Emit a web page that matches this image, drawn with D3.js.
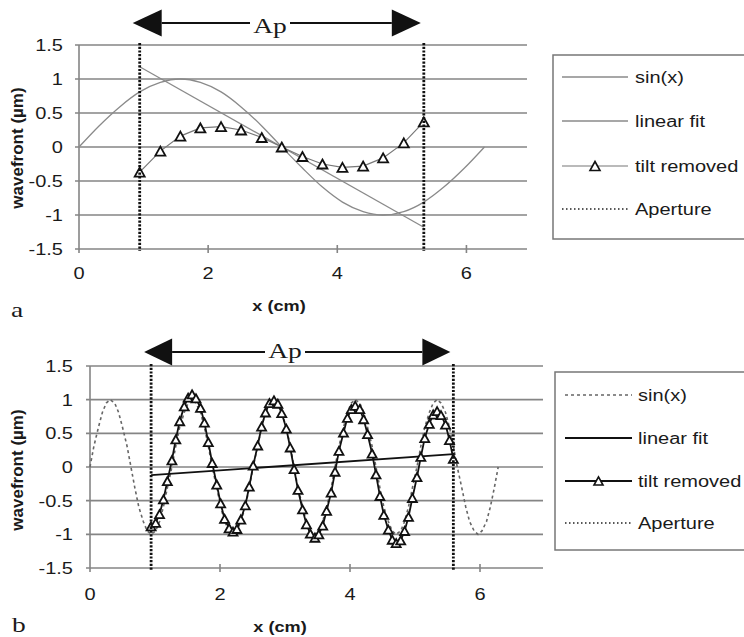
<!DOCTYPE html>
<html>
<head>
<meta charset="utf-8">
<script src="https://cdn.jsdelivr.net/npm/d3@7"></script>
<style>
  body { margin: 0; background: #fff; }
  svg { display: block; }
</style>
</head>
<body>
<div class="chart"></div>
<script>
// ---- data ----
let yTicks = [1.5, 1, 0.5, 0, -0.5, -1, -1.5];
let xTicks = [0, 2, 4, 6];
let legendNames = ['sin(x)', 'linear fit', 'tilt removed', 'Aperture'];

// panel a : coarse sampling
let xA = [0, 0.31, 0.63, 0.94, 1.26, 1.57, 1.88, 2.2, 2.51, 2.83, 3.14,
          3.46, 3.77, 4.08, 4.4, 4.71, 5.03, 5.34, 5.65, 5.97, 6.28];
let sinA = [0, 0.31, 0.59, 0.81, 0.95, 1, 0.95, 0.81, 0.59, 0.31, 0,
            -0.31, -0.59, -0.81, -0.95, -1, -0.95, -0.81, -0.59, -0.31, 0];
let tiltXA = [0.94, 1.26, 1.57, 1.88, 2.2, 2.51, 2.83, 3.14, 3.46, 3.77, 4.08, 4.4, 4.71, 5.03, 5.34];
let tiltA = [-0.37, -0.06, 0.16, 0.28, 0.3, 0.25, 0.14, 0, -0.14, -0.25, -0.3, -0.28, -0.16, 0.06, 0.37];
let fitXA = [0.94, 5.34];
let fitA = [1.18, -1.18];
let apertureA = [0.94, 5.34];

// panel b : fine sampling
let xB = [0, 0.06, 0.13, 0.19, 0.25, 0.31, 0.38, 0.44, 0.5, 0.57,
          0.63, 0.69, 0.75, 0.82, 0.88, 0.94, 1.01, 1.07, 1.13, 1.19,
          1.26, 1.32, 1.38, 1.45, 1.51, 1.57, 1.63, 1.7, 1.76, 1.82,
          1.88, 1.95, 2.01, 2.07, 2.14, 2.2, 2.26, 2.32, 2.39, 2.45,
          2.51, 2.58, 2.64, 2.7, 2.76, 2.83, 2.89, 2.95, 3.02, 3.08,
          3.14, 3.2, 3.27, 3.33, 3.39, 3.46, 3.52, 3.58, 3.64, 3.71,
          3.77, 3.83, 3.9, 3.96, 4.02, 4.08, 4.15, 4.21, 4.27, 4.34,
          4.4, 4.46, 4.52, 4.59, 4.65, 4.71, 4.78, 4.84, 4.9, 4.96,
          5.03, 5.09, 5.15, 5.22, 5.28, 5.34, 5.4, 5.47, 5.53, 5.59,
          5.65, 5.72, 5.78, 5.84, 5.91, 5.97, 6.03, 6.1, 6.16, 6.22, 6.28];
let sinB = [0, 0.31, 0.59, 0.81, 0.95, 1, 0.95, 0.81, 0.59, 0.31,
            0, -0.31, -0.59, -0.81, -0.95, -1, -0.95, -0.81, -0.59, -0.31,
            0, 0.31, 0.59, 0.81, 0.95, 1, 0.95, 0.81, 0.59, 0.31,
            0, -0.31, -0.59, -0.81, -0.95, -1, -0.95, -0.81, -0.59, -0.31,
            0, 0.31, 0.59, 0.81, 0.95, 1, 0.95, 0.81, 0.59, 0.31,
            0, -0.31, -0.59, -0.81, -0.95, -1, -0.95, -0.81, -0.59, -0.31,
            0, 0.31, 0.59, 0.81, 0.95, 1, 0.95, 0.81, 0.59, 0.31,
            0, -0.31, -0.59, -0.81, -0.95, -1, -0.95, -0.81, -0.59, -0.31,
            0, 0.31, 0.59, 0.81, 0.95, 1, 0.95, 0.81, 0.59, 0.31,
            0, -0.31, -0.59, -0.81, -0.95, -1, -0.95, -0.81, -0.59, -0.31, 0];
let tiltB = [-0.88, -0.83, -0.7, -0.48, -0.21, 0.1, 0.41, 0.68, 0.9, 1.03,
             1.08, 1.02, 0.88, 0.66, 0.37, 0.06, -0.26, -0.54, -0.77, -0.91,
             -0.96, -0.92, -0.78, -0.57, -0.29, 0.02, 0.32, 0.6, 0.81, 0.95,
             0.99, 0.94, 0.8, 0.57, 0.29, -0.03, -0.34, -0.63, -0.85, -0.99,
             -1.05, -1, -0.87, -0.65, -0.38, -0.07, 0.24, 0.51, 0.73, 0.86,
             0.91, 0.86, 0.71, 0.49, 0.2, -0.11, -0.43, -0.71, -0.93, -1.08,
             -1.13, -1.09, -0.95, -0.74, -0.46, -0.15, 0.15, 0.43, 0.64, 0.78,
             0.83, 0.77, 0.63, 0.4, 0.12];
let tiltXB = xB.slice(15, 90);
let fitXB = [0.94, 5.59];
let fitB = [-0.12, 0.19];
let apertureB = [0.94, 5.59];

// ---- drawing ----
let width = 744;
let height = 637;
let SX = 1.25; // the scan is wider than it is tall, stretch text to match

let svg = d3.select('.chart')
            .append('svg')
            .attr('width', width)
            .attr('height', height);

function label(g, x, y, s, size, anchor, family, weight) {
  return g.append('text')
          .attr('transform', 'translate(' + x + ',' + y + ') scale(' + SX + ',1)')
          .attr('text-anchor', anchor || 'start')
          .style('font-family', family || 'Liberation Sans, Arial, sans-serif')
          .style('font-weight', weight || 'normal')
          .style('font-size', size + 'px')
          .attr('fill', '#1a1a1a')
          .text(s);
}

function triangle(s) {
  let h = s * 0.9;
  return 'M0,' + (-h / 2) + 'L' + (s / 2) + ',' + (h / 2) + 'L' + (-s / 2) + ',' + (h / 2) + 'Z';
}

function zip(xs, ys) {
  return xs.map((x, i) => [x, ys[i]]);
}

function drawPanel(p) {
  let g = svg.append('g');
  let xScale = d3.scaleLinear().domain([0, 7]).range([p.x0, p.x1]);
  let yScale = d3.scaleLinear().domain([-1.5, 1.5]).range([p.yBot, p.yTop]);
  let line = d3.line().x(d => xScale(d[0])).y(d => yScale(d[1]));

  // horizontal grid
  g.selectAll('.grid')
   .data(yTicks)
   .enter()
   .append('line')
   .attr('x1', p.x0 - 4)
   .attr('x2', p.gridEnd)
   .attr('y1', d => yScale(d))
   .attr('y2', d => yScale(d))
   .attr('stroke', '#858585')
   .attr('stroke-width', 1.6);

  // y axis line + x ticks
  g.append('line')
   .attr('x1', p.x0).attr('x2', p.x0)
   .attr('y1', yScale(1.5)).attr('y2', yScale(-1.5) + 4)
   .attr('stroke', '#858585')
   .attr('stroke-width', 1.6);
  g.selectAll('.xtick')
   .data(xTicks.slice(1))
   .enter()
   .append('line')
   .attr('x1', d => xScale(d)).attr('x2', d => xScale(d))
   .attr('y1', yScale(-1.5) - 4).attr('y2', yScale(-1.5) + 4)
   .attr('stroke', '#858585')
   .attr('stroke-width', 1.6);

  // tick labels
  yTicks.forEach(t => label(g, p.tickLabelX, yScale(t) + 6, String(t), 16, 'end'));
  xTicks.forEach(t => label(g, xScale(t), p.xLabelY, String(t), 16, 'middle'));

  // titles
  label(g, p.xTitle[0], p.xTitle[1], 'x (cm)', 14.5, 'middle', null, 'bold');
  g.append('text')
   .attr('transform', 'translate(' + p.yTitle[0] + ',' + p.yTitle[1] + ') rotate(-90)')
   .attr('text-anchor', 'middle')
   .style('font-family', 'Liberation Sans, Arial, sans-serif')
   .style('font-weight', 'bold')
   .style('font-size', '17px')
   .attr('fill', '#1a1a1a')
   .text('wavefront (µm)');
  label(g, p.letter[0], p.letter[1], p.letterText, 22, 'start', 'Liberation Serif, Times New Roman, serif');

  // series
  g.append('path')
   .datum(zip(p.sinX, p.sinY))
   .attr('d', p.sinCurve ? line.curve(d3.curveMonotoneX) : line.curve(d3.curveLinear))
   .attr('fill', 'none')
   .attr('stroke', p.sinColor)
   .attr('stroke-width', p.sinWidth)
   .attr('stroke-dasharray', p.sinDash);
  line.curve(d3.curveLinear);

  g.append('path')
   .datum(zip(p.fitX, p.fitY))
   .attr('d', line)
   .attr('fill', 'none')
   .attr('stroke', p.fitColor)
   .attr('stroke-width', p.fitWidth);

  g.append('path')
   .datum(zip(p.tiltX, p.tiltY))
   .attr('d', line)
   .attr('fill', 'none')
   .attr('stroke', p.tiltColor)
   .attr('stroke-width', p.tiltWidth);

  g.selectAll('.tri')
   .data(zip(p.tiltX, p.tiltY))
   .enter()
   .append('path')
   .attr('d', triangle(p.triSize))
   .attr('transform', d => 'translate(' + xScale(d[0]) + ',' + yScale(d[1]) + ')')
   .attr('fill', '#fff')
   .attr('stroke', '#111')
   .attr('stroke-width', 1.8);

  // aperture
  g.selectAll('.ap')
   .data(p.aperture)
   .enter()
   .append('line')
   .attr('x1', d => xScale(d)).attr('x2', d => xScale(d))
   .attr('y1', yScale(1.5) - 2).attr('y2', yScale(-1.5) + 2)
   .attr('stroke', '#111')
   .attr('stroke-width', 2.8)
   .attr('stroke-dasharray', '2.2,1.5');

  // Ap arrow
  let a = p.arrow;
  let xl = xScale(p.aperture[0]) - 7;
  let xr = xScale(p.aperture[1]) - 3;
  g.append('path')
   .attr('d', 'M' + xl + ',' + a.y + 'L' + (xl + a.w) + ',' + (a.y - a.h / 2) + 'L' + (xl + a.w) + ',' + (a.y + a.h / 2) + 'Z')
   .attr('fill', '#111');
  g.append('path')
   .attr('d', 'M' + xr + ',' + a.y + 'L' + (xr - a.w) + ',' + (a.y - a.h / 2) + 'L' + (xr - a.w) + ',' + (a.y + a.h / 2) + 'Z')
   .attr('fill', '#111');
  g.append('line')
   .attr('x1', xl + a.w).attr('x2', a.tx - 20)
   .attr('y1', a.y).attr('y2', a.y)
   .attr('stroke', '#111').attr('stroke-width', 2.2);
  g.append('line')
   .attr('x1', a.tx + 20).attr('x2', xr - a.w)
   .attr('y1', a.y).attr('y2', a.y)
   .attr('stroke', '#111').attr('stroke-width', 2.2);
  label(g, a.tx, a.ty, 'Ap', 22, 'middle', 'Liberation Serif, Times New Roman, serif');

  // legend
  let L = p.legend;
  g.append('rect')
   .attr('x', L.x).attr('y', L.y)
   .attr('width', width - L.x + 20).attr('height', L.h)
   .attr('fill', '#fff')
   .attr('stroke', '#777')
   .attr('stroke-width', 1.5);
  let styles = [
    {c: p.sinColor, w: p.sinWidth, dash: p.sinDash},
    {c: p.fitColor, w: p.fitWidth, dash: null},
    {c: p.tiltColor, w: p.tiltWidth, dash: null, tri: true},
    {c: '#222', w: 1.6, dash: '1.5,2.5'}
  ];
  let legend = g.selectAll('.legend-label')
                .data(legendNames)
                .enter()
                .append('g')
                .attr('class', 'legend-label')
                .attr('transform', (d, i) => 'translate(0,' + L.rows[i] + ')');
  legend.append('line')
        .attr('x1', L.lx0).attr('x2', L.lx1)
        .attr('y1', 0).attr('y2', 0)
        .attr('stroke', (d, i) => styles[i].c)
        .attr('stroke-width', (d, i) => styles[i].w)
        .attr('stroke-dasharray', (d, i) => styles[i].dash);
  legend.filter((d, i) => styles[i].tri)
        .append('path')
        .attr('d', triangle(p.triSize))
        .attr('transform', 'translate(' + ((L.lx0 + L.lx1) / 2) + ',0)')
        .attr('fill', '#fff')
        .attr('stroke', '#111')
        .attr('stroke-width', 1.6);
  legend.each(function (d) {
    label(d3.select(this), L.tx, 6, d, 16, 'start');
  });
}

drawPanel({
  x0: 79, x1: 531, yTop: 45, yBot: 249, gridEnd: 527,
  tickLabelX: 63, xLabelY: 279,
  xTitle: [279, 311], yTitle: [23, 148],
  letter: [11, 317], letterText: 'a',
  sinX: xA, sinY: sinA, sinColor: '#8a8a8a', sinWidth: 1.3, sinDash: null, sinCurve: true,
  fitX: fitXA, fitY: fitA, fitColor: '#8a8a8a', fitWidth: 1.3,
  tiltX: tiltXA, tiltY: tiltA, tiltColor: '#777', tiltWidth: 1.2, triSize: 10,
  aperture: apertureA,
  arrow: {y: 23, w: 29, h: 27, tx: 270, ty: 33},
  legend: {x: 553, y: 55, h: 184, rows: [77, 121, 166, 209], lx0: 562, lx1: 628, tx: 635}
});

drawPanel({
  x0: 90, x1: 545, yTop: 366, yBot: 568, gridEnd: 543,
  tickLabelX: 73, xLabelY: 600,
  xTitle: [280, 632], yTitle: [23, 470],
  letter: [12, 632], letterText: 'b',
  sinX: xB, sinY: sinB, sinColor: '#666', sinWidth: 1.6, sinDash: '3,3', sinCurve: false,
  fitX: fitXB, fitY: fitB, fitColor: '#111', fitWidth: 1.8,
  tiltX: tiltXB, tiltY: tiltB, tiltColor: '#111', tiltWidth: 1.8, triSize: 9,
  aperture: apertureB,
  arrow: {y: 352, w: 28, h: 27, tx: 285, ty: 358},
  legend: {x: 555, y: 372, h: 178, rows: [395, 438, 481, 523], lx0: 565, lx1: 632, tx: 638}
});
</script>
</body>
</html>
